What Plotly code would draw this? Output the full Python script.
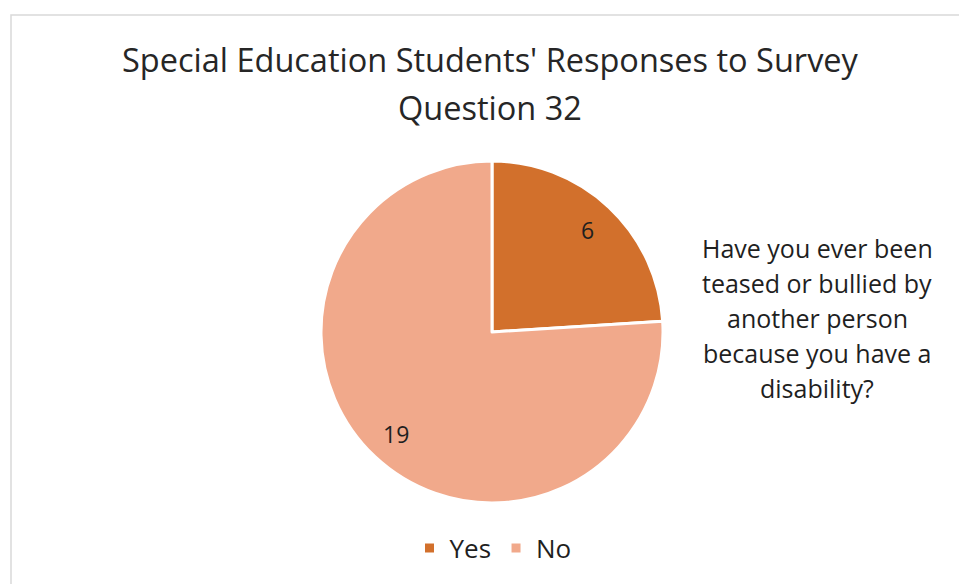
import math
import plotly.graph_objects as go

categories = ["Yes", "No"]
values = [6, 19]
colors = ["#D2702C", "#F1A98B"]
title_lines = ["Special Education Students' Responses to Survey", "Question 32"]
side_lines = ["Have you ever been", "teased or bullied by", "another person",
              "because you have a", "disability?"]

W, H = 959, 584
cx, cy, r = 492, 332, 171
FONT = "Open Sans"
INK = "#1f1f1f"

fig = go.Figure()
fig.add_trace(go.Pie(
    labels=categories, values=values, sort=False, direction="clockwise", rotation=0,
    marker=dict(colors=colors, line=dict(color="white", width=3)),
    textinfo="none", hoverinfo="label+value",
    domain=dict(x=[(cx - r) / W, (cx + r) / W], y=[1 - (cy + r) / H, 1 - (cy - r) / H]),
    showlegend=True,
))

# data labels placed from the slice mid-angles
total = sum(values)
start = 0.0
for v in values:
    mid = (start + v / 2) / total * 2 * math.pi
    start += v
    px = cx + 0.82 * r * math.sin(mid)
    py = cy - 0.82 * r * math.cos(mid)
    fig.add_annotation(x=px / W, y=1 - py / H, xref="paper", yref="paper", text=str(v),
                       showarrow=False, xanchor="center", yanchor="middle",
                       font=dict(family=FONT, size=23, color=INK))

# chart title (two centred lines)
for i, line in enumerate(title_lines):
    fig.add_annotation(x=490 / W, y=1 - (60 + 47 * i) / H, xref="paper", yref="paper", text=line,
                       showarrow=False, xanchor="center", yanchor="middle",
                       font=dict(family=FONT, size=32.5, color="#262626"))

# question text to the right of the pie
for i, line in enumerate(side_lines):
    fig.add_annotation(x=817 / W, y=1 - (248 + 35 * i) / H, xref="paper", yref="paper", text=line,
                       showarrow=False, xanchor="center", yanchor="middle",
                       font=dict(family=FONT, size=25, color=INK))

fig.add_shape(type="rect", xref="paper", yref="paper", x0=11 / W, y0=-0.2, x1=1.2, y1=1 - 15 / H,
              line=dict(color="#D9D9D9", width=1.5), fillcolor="rgba(0,0,0,0)", layer="below")

fig.update_layout(
    width=W, height=H, margin=dict(l=0, r=0, t=0, b=0),
    paper_bgcolor="white", plot_bgcolor="white",
    legend=dict(orientation="h", x=493 / W, xanchor="center", y=1 - 548 / H, yanchor="middle",
                font=dict(family=FONT, size=26, color=INK), itemwidth=30),
)

fig.write_html("out.html")
